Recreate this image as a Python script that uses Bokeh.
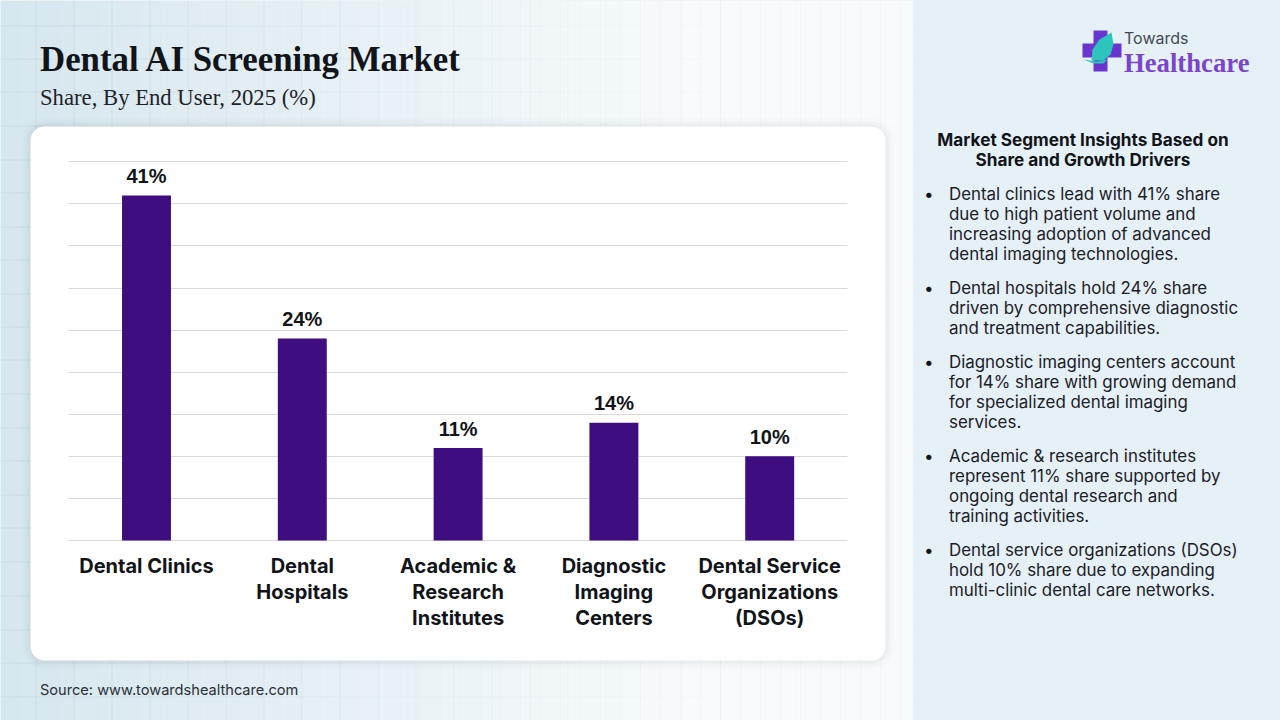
from bokeh.core.properties import value
from bokeh.embed import file_html
from bokeh.resources import INLINE
from bokeh.plotting import figure
from bokeh.models import (BoxAnnotation, Label, PolyAnnotation, ColumnDataSource,
                          Range1d, FixedTicker, Grid)

# ---------- data ----------
categories = ["Dental Clinics", "Dental Hospitals", "Academic & Research Institutes",
              "Diagnostic Imaging Centers", "Dental Service Organizations (DSOs)"]
shares = [41, 24, 11, 14, 10]
share_labels = ["41%", "24%", "11%", "14%", "10%"]
axis_line_1 = ["Dental Clinics", "Dental", "Academic &", "Diagnostic", "Dental Service"]
axis_line_2 = ["", "Hospitals", "Research", "Imaging", "Organizations"]
axis_line_3 = ["", "", "Institutes", "Centers", "(DSOs)"]
y_ticks = [0, 5, 10, 15, 20, 25, 30, 35, 40, 45]

title_text = "Dental AI Screening Market"
subtitle_text = "Share, By End User, 2025 (%)"
source_text = "Source: www.towardshealthcare.com"
panel_heading = ["Market Segment Insights Based on", "Share and Growth Drivers"]
panel_bullets = [
    ["Dental clinics lead with 41% share", "due to high patient volume and",
     "increasing adoption of advanced", "dental imaging technologies."],
    ["Dental hospitals hold 24% share", "driven by comprehensive diagnostic",
     "and treatment capabilities."],
    ["Diagnostic imaging centers account", "for 14% share with growing demand",
     "for specialized dental imaging", "services."],
    ["Academic & research institutes", "represent 11% share supported by",
     "ongoing dental research and", "training activities."],
    ["Dental service organizations (DSOs)", "hold 10% share due to expanding",
     "multi-clinic dental care networks."],
]

# ---------- layout constants (reference pixels) ----------
PAGE = 0
W, H = 1280, 720
BAND = 155.8            # px per category
CENTER0 = 146.0         # reference x of the first category
ZERO_Y = 540.0          # reference y of value 0
UNIT = 42.08 / 5        # px per percentage point
BASE_SHIFT = 0.37       # rendered baseline sits this many font sizes below the anchor
def sx(X): return X - PAGE
def sy(Y): return H - (Y - PAGE)

BODY = "Inter"
SANS = "'Liberation Sans'"
SERIF = "'Liberation Serif'"
INK = "#111418"

p = figure(width=W, height=H, output_backend="svg", toolbar_location=None,
           x_range=Range1d((PAGE - CENTER0) / BAND, (PAGE + W - CENTER0) / BAND),
           y_range=Range1d((ZERO_Y - PAGE - H) / UNIT, (ZERO_Y - PAGE) / UNIT),
           x_axis_location=None, y_axis_location=None,
           min_border=0, border_fill_color="#d7e7ef", background_fill_color="#d7e7ef", outline_line_color=None)
for g in list(p.center):
    g.visible = False

def box(X0, Y0, X1, Y1, color, alpha=1.0, radius=0):
    p.add_layout(BoxAnnotation(left=sx(X0), right=sx(X1), top=sy(Y0), bottom=sy(Y1),
                               left_units="screen", right_units="screen", top_units="screen", bottom_units="screen",
                               fill_color=color, fill_alpha=alpha, line_color=None, level="image",
                               border_radius=radius, editable=False))

def text(X, Y, s, size, font=BODY, style="normal", color=INK, align="left"):
    p.add_layout(Label(x=sx(X), y=sy(Y - BASE_SHIFT * size), x_units="screen", y_units="screen", text=s,
                       text_font=font, text_font_size=f"{size}px", text_font_style=style,
                       text_color=color, text_align=align, text_baseline="alphabetic"))

def poly(points, color):
    p.add_layout(PolyAnnotation(xs=[sx(a) for a, _ in points], ys=[sy(b) for _, b in points],
                                xs_units="screen", ys_units="screen", fill_color=color, fill_alpha=1,
                                line_color=None, level="annotation", editable=False))

# ---------- page background ----------
for gx in range(35, 920, 38):
    box(gx, 0, gx + 1, 720, "#b9cfdb", 0.5)
for gy in [25, 58, 91, 125, 159, 192, 226, 259, 293, 326, 359, 393, 427, 460, 494, 527, 561, 595, 629, 662, 696]:
    box(0, gy, 913, gy + 1, "#b9cfdb", 0.5)
for i in range(0, 913, 20):
    box(i, 0, min(i + 20, 913), 720, "#ffffff", min(0.82, 0.02 + 1.05 * i / 913))
box(913, 0, 1280, 720, "#e6f0f7")

# ---------- card ----------
for grow, a in [(9, 0.006), (7, 0.008), (5, 0.01), (3, 0.014), (1, 0.02)]:
    box(30 - grow, 126 - grow, 885 + grow, 660 + grow, "#000000", a, 14 + grow)
box(30, 126, 885, 660, "#ffffff", 1, 14)

# ---------- chart ----------
positions = list(range(len(categories)))
x_bounds = (-0.5, len(categories) - 0.5)
src = ColumnDataSource(dict(x=positions, cat=categories, val=shares, lab=share_labels))
p.vbar(x="x", top="val", width=0.314, bottom=0, source=src, color="#3e0d80", line_color=None)
p.text(x="x", y="val", text="lab", source=src, y_offset=-12 - BASE_SHIFT * 20, text_align="center",
       text_baseline="alphabetic", text_font=value(SANS), text_font_style="bold",
       text_font_size="20px", text_color=INK)

p.add_layout(Grid(dimension=1, ticker=FixedTicker(ticks=y_ticks), grid_line_color="#d9d9d9",
                  grid_line_width=1, cross_bounds=x_bounds))

for lines, offset in ((axis_line_1, 33), (axis_line_2, 59), (axis_line_3, 85)):
    rows = [(i, s) for i, s in enumerate(lines) if s]
    p.text(x=[r[0] for r in rows], y=[0] * len(rows), text=[r[1] for r in rows],
           y_offset=offset - BASE_SHIFT * 20,
           text_align="center", text_baseline="alphabetic", text_font=value(BODY), text_font_style="bold",
           text_font_size="20px", text_color=INK)

# ---------- titles ----------
text(39.5, 71.5, title_text, 34.8, SERIF, "bold")
text(39.5, 105.5, subtitle_text, 22.7, SERIF, "normal", "#1d2228")
text(39.5, 695, source_text, 14.6, BODY, "normal", "#2a3038")

# ---------- side panel ----------
for i, line in enumerate(panel_heading):
    text(1082.5, 145.5 + 20 * i, line, 17.2, BODY, "bold", align="center")
y = 200
for block in panel_bullets:
    text(923.5, y, "\u2022", 17, BODY)
    for line in block:
        text(948.5, y, line, 16.9, BODY, "normal", "#1b2026")
        y += 20
    y += 14

# ---------- logo ----------
logo_cross = [(1093, 30), (1107, 30), (1107, 43), (1121, 43), (1121, 57), (1107, 57), (1107, 71),
              (1093, 71), (1093, 57), (1082, 57), (1082, 43), (1093, 43)]
logo_leaf = [(1111, 32), (1099, 39), (1092, 49), (1091, 60), (1103, 60), (1110, 54), (1113, 44)]
logo_swoosh = [(1083, 59), (1093, 63), (1103, 63), (1107, 59), (1096, 61)]
poly(logo_cross, "#6a35cf")
poly(logo_leaf, "#2cc4bb")
poly(logo_swoosh, "#2cc4bb")
text(1123.5, 43, "Towards", 16, BODY, "normal", "#444a55")
text(1123.5, 72, "Healthcare", 26.7, SERIF, "bold", "#7a45c8")

open("out.html", "w").write(file_html(p, INLINE))
